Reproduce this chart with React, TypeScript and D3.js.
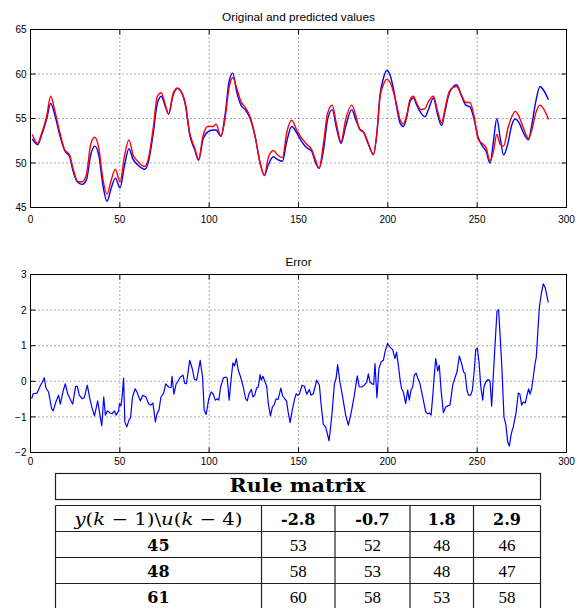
import React from 'react';
import * as d3 from 'd3';

// sample index of the readings for the top panel
const tTop = [
  1, 4, 6, 9, 11.3, 13.5, 16.3, 19.1, 21.9, 23.8, 26.6, 29, 31.3, 33.7, 35.9, 38.2, 40.6, 42.8, 45.2, 47.5,
  50.1, 52.7, 55.1, 57.4, 60, 63.9, 66.1, 68.6, 71, 73.2, 75.5, 77.3, 79.8, 82.2, 84.4, 86.7, 89.1, 91.9, 94.1, 96.5,
  99.3, 102.3, 103.8, 106.6, 108.9, 111.1, 113.2, 115.4, 117.8, 120.1, 122.9, 125.7, 128.5, 130.9, 133.1, 135.9, 138.3, 141, 143.4, 146.2,
  149, 151.8, 154.6, 157.4, 159.6, 161.5, 163.9, 166.3, 168.9, 171.3, 173.8, 176.4, 179.8, 182, 184.4, 186.3, 189.1, 191.9, 193.8, 195.6,
  197.5, 199.4, 201.2, 203.1, 205, 206.8, 208.7, 210.6, 212.4, 214.3, 216.2, 218.6, 220.8, 222.7, 225.5, 227.9, 230.1, 232, 234.3, 236.7,
  238.5, 241.3, 243.6, 246, 247.9, 250.7, 252.9, 255, 257.2, 259.1, 261, 262.9, 264.8, 267.2, 269.4, 271.3, 273.5, 275.9, 278.7, 280.6,
  282.8, 285.2, 287.1, 289.9
];

// original values (blue)
const original = [
  52.7, 52.05, 53.0, 54.9, 56.7, 55.5, 53.2, 51.4, 50.7, 49.1, 47.8, 47.6, 48.1, 50.9, 51.9, 50.9, 47.4, 45.7, 47.2, 48.3,
  47.2, 49.8, 51.6, 50.4, 49.8, 49.3, 50.2, 53.2, 56.7, 57.5, 56.3, 55.5, 57.6, 58.4, 58.0, 56.5, 53.2, 51.5, 50.3, 52.6,
  53.5, 53.7, 53.7, 53.0, 55.4, 59.1, 60.1, 58.0, 56.5, 56.0, 55.0, 53.0, 50.0, 48.6, 49.8, 50.7, 50.4, 50.2, 52.4, 54.1,
  53.4, 52.4, 51.7, 51.3, 50.0, 49.4, 51.3, 54.9, 56.0, 53.9, 52.2, 54.1, 56.0, 54.9, 53.8, 53.5, 52.1, 51.0, 53.2, 57.6,
  59.5, 60.4, 59.9, 58.4, 56.2, 54.5, 54.1, 55.2, 56.9, 57.3, 56.5, 55.6, 55.2, 56.0, 57.3, 55.4, 54.2, 55.8, 57.8, 58.6,
  58.8, 57.5, 56.5, 56.3, 55.2, 52.8, 51.9, 51.3, 50.0, 52.4, 55.0, 52.8, 50.9, 52.2, 54.3, 54.95, 54.5, 53.4, 52.6, 54.3,
  56.9, 58.6, 58.2, 57.1
];

// predicted values (red)
const predicted = [
  53.2, 52.2, 53.2, 55.2, 57.5, 56.0, 53.5, 51.5, 50.9, 49.4, 47.9, 47.9, 48.7, 52.1, 52.9, 51.7, 48.1, 46.5, 48.1, 49.3,
  47.9, 50.9, 52.6, 50.9, 50.2, 49.6, 50.6, 53.8, 57.5, 57.9, 56.5, 55.5, 57.8, 58.4, 58.0, 56.7, 53.4, 51.7, 50.4, 53.0,
  54.1, 54.1, 54.4, 53.0, 55.0, 58.4, 59.6, 58.4, 56.9, 56.3, 55.2, 53.0, 50.0, 48.6, 50.6, 51.4, 50.9, 50.6, 53.4, 54.8,
  53.7, 52.8, 52.1, 51.5, 50.3, 49.4, 52.1, 55.6, 56.5, 54.3, 52.4, 54.9, 56.5, 55.4, 53.7, 53.5, 52.2, 50.9, 53.2, 57.3,
  58.8, 59.4, 59.1, 58.0, 56.5, 54.9, 54.4, 55.4, 57.1, 57.5, 56.7, 56.0, 56.1, 56.9, 57.5, 55.8, 54.5, 56.1, 58.0, 58.5,
  58.6, 57.6, 56.8, 56.8, 55.6, 52.6, 52.2, 51.7, 50.2, 51.3, 53.2, 52.1, 51.9, 53.9, 55.2, 55.8, 55.2, 53.9, 52.8, 53.7,
  55.6, 56.5, 56.1, 54.9
];

// error readings (sample index, value)
const tErr = [
  0.6, 1.5, 3.7, 5.6, 6.7, 7.7, 8.6, 10.1, 11.8, 12.7, 14.2, 15.7, 16.7, 18.4, 19.5, 20.8, 22.1, 23.6, 25.3, 26.2,
  27.3, 29, 30.1, 31.8, 33, 34.3, 35.8, 37.6, 38.6, 39.9, 41, 41.9, 43.1, 44.6, 45.7, 47, 47.9, 49.3, 49.8, 50.6,
  51.3, 52.1, 52.8, 53.9, 55.1, 56, 57.1, 58.6, 59.6, 61.4, 62.9, 64.6, 66.1, 67.4, 68.5, 69.9, 70.8, 71.9, 73, 74.5,
  75.7, 77.3, 78.7, 79.2, 80.3, 81.5, 82.8, 83.9, 85.4, 86.3, 87.3, 89.1, 90.5, 91.8, 93, 95, 96.3, 97.2, 98.3, 99.8,
  101.1, 102.2, 103.4, 104.5, 105.4, 106.4, 107.9, 109.2, 110.1, 111.2, 112.4, 113.3, 114.2, 115.2, 116.3, 117.6, 119.1, 120.4, 121.3, 122.3,
  123.6, 124.5, 125.5, 126.6, 127.5, 128.5, 129.2, 130.1, 131.3, 132.2, 133.1, 134.3, 135.4, 136.3, 137.5, 138.6, 140.1, 141.2, 142.3, 143.3,
  144.2, 145.3, 146.4, 147.8, 148.7, 149.4, 150.5, 152, 153.3, 154.6, 156.1, 157, 158.3, 160.2, 161.7, 162.6, 163.9, 165.2, 167.1, 168.6,
  170.1, 171, 171.9, 173.2, 174.7, 176.4, 177.9, 179.4, 181.1, 182.9, 184, 185.4, 186.8, 188.2, 189.1, 190, 191.1, 192.1, 192.8, 193.9,
  195, 196.2, 197.5, 198.6, 199.9, 201.2, 202.7, 204, 204.9, 205.9, 206.8, 207.7, 208.7, 210, 211.1, 212, 213, 213.9, 214.8, 215.8,
  216.9, 218, 219.5, 221.2, 222.3, 223.2, 224.2, 225.1, 226, 226.8, 227.9, 228.8, 229.8, 231.1, 232.4, 233.5, 234.8, 236.3, 237.4, 238.7,
  240, 241.3, 242.4, 243.2, 244.3, 245.2, 246.4, 247.3, 248.3, 249.2, 250.1, 251.1, 252, 253.1, 253.8, 254.8, 256.1, 257.2, 258.1, 259.2,
  260.3, 261.1, 262, 262.9, 263.9, 265, 266.1, 267.1, 268, 269.1, 270.2, 271.7, 273, 273.9, 274.9, 275.8, 276.9, 277.9, 278.8, 279.6,
  280.5, 281.4, 282.4, 283.1, 284, 284.8, 285.9, 287, 288.1, 289.8
];

const errValues = [
  -0.49, -0.35, -0.33, -0.11, -0.02, 0.1, -0.18, -0.3, -0.77, -0.83, -0.58, -0.39, -0.64, -0.25, -0.07, -0.35, -0.49, -0.64, -0.14, -0.14,
  -0.39, -0.49, -0.46, -0.11, -0.44, -0.72, -0.97, -0.55, -0.86, -1.25, -0.44, -0.95, -0.83, -0.89, -0.91, -0.83, -0.95, -0.83, -0.63, -0.69,
  -0.44, 0.09, -1.14, -1.28, -1.09, -1.02, -0.44, -0.21, -0.3, -0.55, -0.39, -0.44, -0.63, -0.67, -0.61, -1.14, -0.91, -0.81, -0.44, -0.33,
  -0.07, -0.16, -0.18, 0.14, -0.36, -0.07, 0.03, 0.12, 0.17, -0.05, -0.07, 0.59, 0.36, 0.05, 0.03, 0.59, 0.12, -0.81, -0.93, -0.49,
  -0.3, -0.35, -0.53, -0.49, -0.53, -0.16, 0.09, 0.12, 0.09, -0.53, 0.12, 0.52, 0.43, 0.64, 0.31, 0.12, -0.16, -0.49, -0.55, -0.35,
  -0.23, -0.44, -0.39, -0.18, -0.16, 0.19, 0.03, 0.14, -0.02, -0.14, -0.63, -0.97, -0.72, -0.67, -0.49, -0.51, -0.19, -0.42, -0.49, -0.55,
  -0.86, -1.16, -0.84, -0.5, -0.35, -0.39, -0.36, -0.11, -0.14, -0.36, -0.23, -0.39, -0.35, 0.03, -0.11, -0.63, -1.21, -1.28, -1.67, -1.0,
  -0.07, 0.07, 0.47, -0.02, -0.44, -0.95, -1.23, -0.91, -0.44, 0.15, -0.16, -0.16, -0.11, -0.02, 0.21, -0.02, -0.07, -0.09, 0.5, -0.46,
  0.36, 0.54, 0.59, 0.87, 1.06, 0.96, 0.89, 0.64, 0.82, 0.45, 0.07, -0.21, -0.3, -0.63, -0.25, -0.53, -0.25, -0.16, 0.17, 0.23,
  0.07, -0.07, -0.44, -0.86, -0.91, -0.89, -0.95, -0.44, 0.17, 0.64, 0.29, 0.45, -0.25, -0.88, -0.72, -0.69, -0.67, -0.11, 0.07, 0.26,
  0.71, 0.5, 0.26, 0.23, -0.25, -0.39, -0.39, -0.25, 0.26, 0.89, 0.93, 0.51, -0.14, -0.53, -0.16, -0.02, 0.05, 0, -0.7, 0.31,
  1.29, 1.97, 2.01, 1.24, 0.31, -1, -1.23, -1.7, -1.82, -1.47, -1.28, -0.91, -0.33, -0.36, -0.67, -0.58, -0.61, -0.39, -0.21, -0.36,
  -0.21, 0.12, 0.5, 0.68, 1.43, 2.08, 2.46, 2.74, 2.63, 2.22
];

const xTicks = [0, 50, 100, 150, 200, 250, 300];
const topYTicks = [45, 50, 55, 60, 65];
const errYTicks = [-2, -1, 0, 1, 2, 3];

const ruleCols = ['-2.8', '-0.7', '1.8', '2.9'];
const ruleRows = ['45', '48', '61'];
const ruleValues = [
  [53, 52, 48, 46],
  [58, 53, 48, 47],
  [60, 58, 53, 58]
];

const sans = '"Liberation Sans", Arial, Helvetica, sans-serif';
const serif = '"DejaVu Serif", serif';
const romanSerif = '"Liberation Serif", "Times New Roman", serif';

const fmt = (v: number) => (v < 0 ? '\u2212' + Math.abs(v) : String(v));

function Panel({ title, x, y, yTicks, children, labelY, titleY }: any) {
  const [x0, x1] = x.range();
  const [yb, yt] = y.range();
  const tick = 5;
  return (
    <g>
      <text x={(x0 + x1) / 2} y={titleY} textAnchor="middle" fontFamily={sans} fontSize={11.8}>{title}</text>
      {/* grid */}
      {xTicks.slice(1, -1).map(t => (
        <line key={'gx' + t} x1={x(t)} x2={x(t)} y1={yt} y2={yb} stroke="#333" strokeWidth={0.8} strokeDasharray="1,3" />
      ))}
      {yTicks.slice(1, -1).map((t: number) => (
        <line key={'gy' + t} x1={x0} x2={x1} y1={y(t)} y2={y(t)} stroke="#333" strokeWidth={0.8} strokeDasharray="1,3" />
      ))}
      {children}
      {/* ticks, inside like matlab */}
      {xTicks.map(t => (
        <g key={'tx' + t}>
          <line x1={x(t)} x2={x(t)} y1={yb} y2={yb - tick} stroke="#000" />
          <line x1={x(t)} x2={x(t)} y1={yt} y2={yt + tick} stroke="#000" />
          <text x={x(t)} y={labelY} textAnchor="middle" fontFamily={sans} fontSize={10}>{t}</text>
        </g>
      ))}
      {yTicks.map((t: number) => (
        <g key={'ty' + t}>
          <line x1={x0} x2={x0 + tick} y1={y(t)} y2={y(t)} stroke="#000" />
          <line x1={x1} x2={x1 - tick} y1={y(t)} y2={y(t)} stroke="#000" />
          <text x={x0 - 4} y={y(t) + 3.6} textAnchor="end" fontFamily={sans} fontSize={10}>{fmt(t)}</text>
        </g>
      ))}
      <rect x={x0} y={yt} width={x1 - x0} height={yb - yt} fill="none" stroke="#000" strokeWidth={1} />
    </g>
  );
}

export default function App() {
  const x = d3.scaleLinear().domain([0, 300]).range([30.5, 566.5]);
  const xe = d3.scaleLinear().domain([0, 300]).range([30.5, 566.5]);
  const yTop = d3.scaleLinear().domain([45, 65]).range([207.5, 29.5]);
  const yErr = d3.scaleLinear().domain([-2, 3]).range([452.5, 274.5]);

  const topLine = (vals: number[]) =>
    d3.line<number>()
      .x((_, i) => x(tTop[i]))
      .y(d => yTop(d))
      .curve(d3.curveMonotoneX)(vals) || '';

  const errLine = d3.line<number>()
    .x((_, i) => xe(tErr[i]))
    .y(d => yErr(d))(errValues) || '';

  // table layout
  const colEdges = [55.5, 261.5, 335, 410, 473.5, 540.5];
  const rowEdges = [505.5, 531.5, 557.5, 583.5];
  const rowBase = [525, 550.5, 576.5, 602.5];
  const cx = (i: number) => (colEdges[i] + colEdges[i + 1]) / 2;

  return (
    <div style={{ position: 'absolute', left: 0, top: 0 }}>
      <svg width={577} height={608} style={{ display: 'block', background: '#fff' }}>
        <Panel title="Original and predicted values" x={x} y={yTop} yTicks={topYTicks} labelY={222.5} titleY={20.5}>
          <path d={topLine(original)} fill="none" stroke="#0000ff" strokeWidth={1.4} />
          <path d={topLine(predicted)} fill="none" stroke="#ff0000" strokeWidth={1.4} />
        </Panel>
        <Panel title="Error" x={xe} y={yErr} yTicks={errYTicks} labelY={465} titleY={265.5}>
          <path d={errLine} fill="none" stroke="#0000ff" strokeWidth={1.2} strokeLinejoin="round" />
        </Panel>

        {/* rule matrix caption */}
        <rect x={55.5} y={473.5} width={485} height={26} fill="none" stroke="#222" strokeWidth={1.2} />
        <text x={297.5} y={491.5} textAnchor="middle" fontFamily={serif} fontWeight="bold" fontSize={18}
          textLength={136} lengthAdjust="spacingAndGlyphs">Rule matrix</text>

        {/* table grid */}
        {rowEdges.map(r => (
          <line key={'r' + r} x1={colEdges[0]} x2={colEdges[5]} y1={r} y2={r} stroke="#222" strokeWidth={1.2} />
        ))}
        {colEdges.map(c => (
          <line key={'c' + c} x1={c} x2={c} y1={rowEdges[0]} y2={608} stroke="#222" strokeWidth={1.2} />
        ))}

        <text x={cx(0)} y={rowBase[0]} textAnchor="middle" fontFamily={serif} fontSize={17}
          textLength={168} lengthAdjust="spacingAndGlyphs">
          <tspan fontStyle="italic">y</tspan>(<tspan fontStyle="italic">k</tspan> {'\u2212'} 1)\<tspan fontStyle="italic">u</tspan>(<tspan fontStyle="italic">k</tspan> {'\u2212'} 4)
        </text>
        {ruleCols.map((c, j) => (
          <text key={'h' + c} x={cx(j + 1)} y={rowBase[0]} textAnchor="middle" fontFamily={serif} fontWeight="bold" fontSize={16}>{c}</text>
        ))}
        {ruleRows.map((r, i) => (
          <g key={'row' + r}>
            <text x={cx(0)} y={rowBase[i + 1]} textAnchor="middle" fontFamily={serif} fontWeight="bold" fontSize={16}>{r}</text>
            {ruleValues[i].map((v, j) => (
              <text key={j} x={cx(j + 1)} y={rowBase[i + 1]} textAnchor="middle" fontFamily={romanSerif} fontSize={17}>{v}</text>
            ))}
          </g>
        ))}
      </svg>
    </div>
  );
}
